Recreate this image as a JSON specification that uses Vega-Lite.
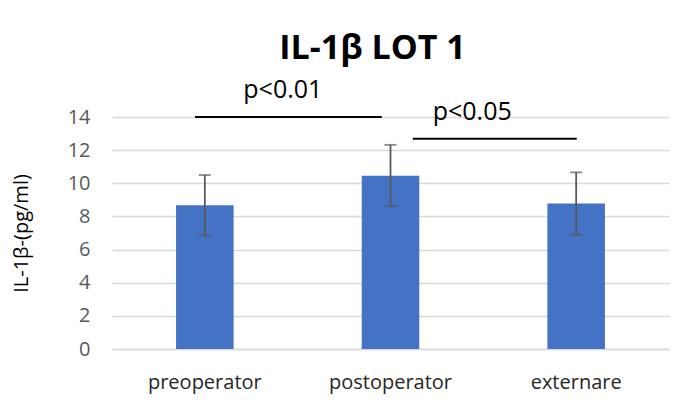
{
  "$schema": "https://vega.github.io/schema/vega-lite/v6.json",
  "autosize": "none",
  "width": 557,
  "height": 232,
  "padding": {"left": 112, "top": 117, "right": 19, "bottom": 61},
  "background": "white",
  "config": {
    "view": {"stroke": null},
    "font": "Open Sans",
    "axisX": {
      "title": null,
      "labelAngle": 0,
      "labelFontSize": 20,
      "labelColor": "#262626",
      "labelPadding": 23,
      "ticks": false,
      "domainColor": "#d9d9d9",
      "domainWidth": 1.5,
      "grid": false
    },
    "axisY": {
      "titleFontSize": 20,
      "titleFontWeight": "normal",
      "titleColor": "#000000",
      "titlePadding": 36,
      "labelFontSize": 20,
      "labelColor": "#595959",
      "labelPadding": 22,
      "ticks": false,
      "domain": false,
      "gridColor": "#d9d9d9",
      "gridWidth": 1.5,
      "labelOverlap": false
    }
  },
  "title": {
    "text": "IL-1β LOT 1",
    "font": "Open Sans",
    "fontSize": 34,
    "fontWeight": "bold",
    "color": "#000000",
    "anchor": "middle",
    "dx": -18,
    "offset": 12
  },
  "datasets": {
    "bars": [
      {"group": "preoperator", "value": 8.67, "low": 6.85, "high": 10.5},
      {"group": "postoperator", "value": 10.45, "low": 8.62, "high": 12.32},
      {"group": "externare", "value": 8.78, "low": 6.88, "high": 10.66}
    ],
    "sig": [
      {"x1": 0.447, "x2": 1.453, "y": 14.0, "label": "p<0.01", "lx": 0.92, "ly": 15.65},
      {"x1": 1.62, "x2": 2.503, "y": 12.68, "label": "p<0.05", "lx": 1.94, "ly": 14.32}
    ]
  },
  "layer": [
    {
      "data": {"name": "bars"},
      "layer": [
        {
          "mark": {"type": "bar", "color": "#4472c4"},
          "encoding": {
            "x": {
              "field": "group",
              "type": "nominal",
              "sort": ["preoperator", "postoperator", "externare"],
              "scale": {"paddingInner": 0.69, "paddingOuter": 0.345},
              "axis": {"title": null}
            },
            "y": {
              "field": "value",
              "type": "quantitative",
              "scale": {"domain": [0, 14], "nice": false},
              "axis": {"title": "IL-1β-(pg/ml)", "values": [0, 2, 4, 6, 8, 10, 12, 14]}
            }
          }
        },
        {
          "mark": {"type": "rule", "color": "#595959", "strokeWidth": 1.8},
          "encoding": {
            "x": {"field": "group", "type": "nominal", "sort": ["preoperator", "postoperator", "externare"], "axis": {"title": null}},
            "y": {"field": "low", "type": "quantitative", "axis": {"title": "IL-1β-(pg/ml)", "values": [0, 2, 4, 6, 8, 10, 12, 14]}},
            "y2": {"field": "high"}
          }
        },
        {
          "mark": {"type": "tick", "color": "#595959", "size": 12, "thickness": 1.8},
          "encoding": {
            "x": {"field": "group", "type": "nominal", "sort": ["preoperator", "postoperator", "externare"], "axis": {"title": null}},
            "y": {"field": "low", "type": "quantitative", "axis": {"title": "IL-1β-(pg/ml)", "values": [0, 2, 4, 6, 8, 10, 12, 14]}}
          }
        },
        {
          "mark": {"type": "tick", "color": "#595959", "size": 12, "thickness": 1.8},
          "encoding": {
            "x": {"field": "group", "type": "nominal", "sort": ["preoperator", "postoperator", "externare"], "axis": {"title": null}},
            "y": {"field": "high", "type": "quantitative", "axis": {"title": "IL-1β-(pg/ml)", "values": [0, 2, 4, 6, 8, 10, 12, 14]}}
          }
        }
      ]
    },
    {
      "data": {"name": "sig"},
      "layer": [
        {
          "mark": {"type": "rule", "color": "#000000", "strokeWidth": 2},
          "encoding": {
            "x": {"field": "x1", "type": "quantitative", "scale": {"domain": [0, 3], "nice": false, "zero": false}, "axis": null},
            "x2": {"field": "x2"},
            "y": {"field": "y", "type": "quantitative", "axis": {"title": "IL-1β-(pg/ml)", "values": [0, 2, 4, 6, 8, 10, 12, 14]}}
          }
        },
        {
          "mark": {"type": "text", "fontSize": 25, "color": "#000000", "align": "center", "baseline": "middle", "font": "Open Sans"},
          "encoding": {
            "x": {"field": "lx", "type": "quantitative", "scale": {"domain": [0, 3], "nice": false, "zero": false}, "axis": null},
            "y": {"field": "ly", "type": "quantitative", "axis": {"title": "IL-1β-(pg/ml)", "values": [0, 2, 4, 6, 8, 10, 12, 14]}},
            "text": {"field": "label"}
          }
        }
      ]
    }
  ],
  "resolve": {"scale": {"x": "independent"}}
}
